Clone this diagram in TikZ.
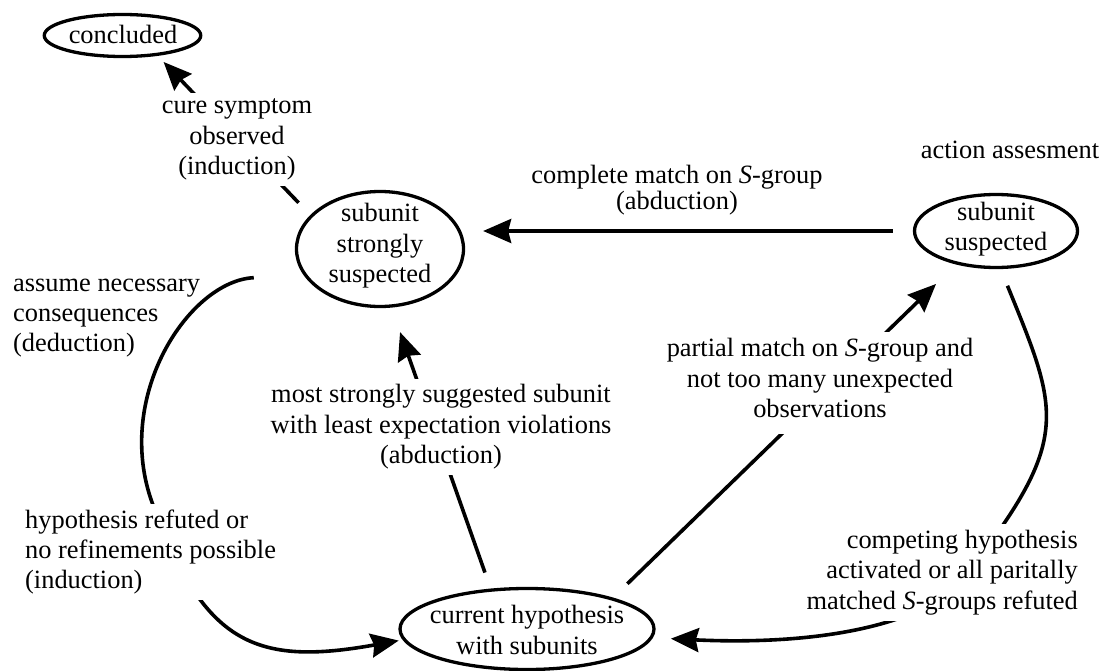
\documentclass[tikz,border=0pt]{standalone}
\usepackage{fontspec}
\setmainfont{Liberation Serif}
\usetikzlibrary{arrows.meta,shapes.geometric}

\begin{document}
\begin{tikzpicture}[x=1bp,y=-1bp,
  state/.style={ellipse, draw, line width=3.3bp, inner sep=0pt},
  txt/.style={font=\fontsize{26.5}{30.5}\selectfont, align=center, inner sep=6bp},
  mask/.style={txt, fill=white},
  link/.style={line width=3.6bp},
  arr/.style={link, -{Stealth[length=28bp, width=24bp, inset=3bp]}},
]
\fill[white] (0,0) rectangle (1108,671);
\useasboundingbox (0,0) rectangle (1108,671);

% states
\node[state, minimum width=156.5bp, minimum height=42bp] (concl) at (122.5,35.5) {};
\node[txt] (concl-t) at (123,34) {concluded};
\node[state, minimum width=167bp, minimum height=115bp] (ss) at (380,249) {};
\node[txt] (ss-t) at (380,246) {subunit\\strongly\\suspected};
\node[state, minimum width=163bp, minimum height=73bp] (su) at (996,231) {};
\node[txt] (su-t) at (996,229) {subunit\\suspected};
\node[state, minimum width=254bp, minimum height=81bp] (ch) at (527,629) {};
\node[txt] (ch-t) at (527,630) {current hypothesis\\with subunits};

% strongly suspected -> concluded
\draw[arr, shorten <=17bp, shorten >=8.5bp] (ss.154) -- (concl.-30);
\node[mask] (l-cure) at (237,139.5) {cure symptom\\observed\\(induction)};

% suspected -> strongly suspected
\draw[arr, shorten <=20bp, shorten >=18bp] (su.west) -- (su.west -| ss.east);
\node[txt, font=\fontsize{26.5}{26}\selectfont] (l-complete) at (677,190)
  {complete match on \textit{S}-group\\(abduction)};

% current hypothesis -> strongly suspected
\draw[arr, shorten <=17bp, shorten >=26bp] (ch.132) -- (ss.-79);
\node[mask] (l-most) at (441,427)
  {most strongly suggested subunit\\with least expectation violations\\(abduction)};

% current hypothesis -> suspected
\draw[arr, shorten <=20bp, shorten >=28bp] (ch.20) -- (su.-140);
\node[mask] (l-partial) at (820,383)
  {partial match on \textit{S}-group and\\not too many unexpected\\observations\rule[-10bp]{0pt}{10bp}};

% suspected -> current hypothesis
\draw[arr, shorten <=18bp, shorten >=18bp] (su.-83)
  .. controls (1052,395) and (1068,430) .. (1003,525)
  .. controls (970,640) and (780,644) .. (ch.-4);
\node[mask, align=right, anchor=east] (l-competing) at (1084,572.5)
  {competing hypothesis\\activated or all paritally\\matched \textit{S}-groups refuted};

% strongly suspected -> current hypothesis
\draw[arr, shorten <=50bp, shorten >=4bp] (ss.199)
  .. controls (189.6,280.8) and (113.2,395.8) .. (152.3,503.1)
  .. controls (203.6,644.1) and (255.2,666.4) .. (ch.185);
\node[mask, align=left, anchor=west] (l-refuted) at (19,552)
  {hypothesis refuted or\\no refinements possible\\(induction)};
\node[txt, align=left, anchor=west] (l-assume) at (7,318)
  {assume necessary\\consequences\\(deduction)};

\node[txt] (l-action) at (1010,150) {action assesment};
\end{tikzpicture}
\end{document}
